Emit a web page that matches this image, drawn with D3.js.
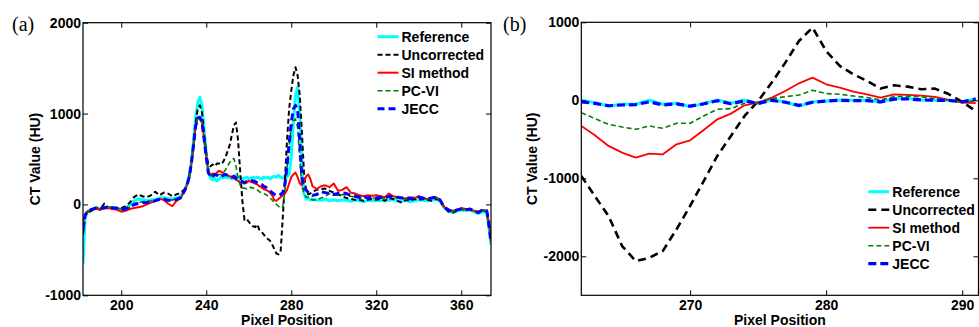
<!DOCTYPE html>
<html>
<head>
<meta charset="utf-8">
<script src="https://cdn.jsdelivr.net/npm/d3@7"></script>
<style>
  html, body { margin: 0; padding: 0; background: #fff; }
  svg { display: block; }
</style>
</head>
<body>
<svg id="chart" width="979" height="327"></svg>
<script>
const seriesNames = ['Reference', 'Uncorrected', 'SI method', 'PC-VI', 'JECC'];

// ---- panel (a): full profile ----
const pixelA = [182, 183, 184, 186, 188, 190, 192, 194, 196, 198, 200, 202, 204, 206, 208, 210, 212, 214, 216, 218, 220, 222, 224, 226, 228, 230,
  231, 232, 233, 234, 235, 236, 237, 238, 239, 240, 241, 242, 243, 244, 245, 246, 247, 248, 249, 250, 251, 252, 253, 254, 255, 256, 257, 258, 259, 260,
  261, 262, 263, 264, 265, 266, 267, 268, 269, 270, 271, 272, 273, 274, 275, 276, 277, 278, 279, 280, 281, 282, 283, 284, 285, 286, 287, 288, 289, 290,
  292, 294, 296, 298, 300, 302, 304, 306, 308, 310, 312, 314, 316, 318, 320, 322, 324, 326, 328, 330, 332, 334, 336, 338, 340, 342, 344, 346, 348, 350,
  352, 354, 356, 358, 360, 362, 364, 366, 368, 370, 372, 373, 374];

const refA = [-650, -150, -80, -60, -45, -50, -40, -35, -40, -45, -55, -40, -10, 40, 60, 55, 40, 50, 55, 70, 75, 65, 60, 70, 90, 170,
  230, 320, 480, 700, 950, 1120, 1180, 1080, 820, 560, 360, 290, 270, 290, 260, 280, 300, 290, 310, 290, 300, 280, 300, 320, 290, 300, 280, 290, 300, 280,
  290, 300, 290, 300, 290, 280, 300, 290, 300, 280, 300, 310, 300, 320, 300, 290, 310, 300, 330, 520, 900, 1200, 1290, 1000, 450, 120, 60, 70, 50, 60,
  50, 45, 60, 40, 50, 40, 50, 45, 35, 50, 40, 30, 45, 40, 45, 40, 50, 45, 55, 40, 35, 45, 30, 40, 50, 45, 40, 50, 55, 40,
  -40, -70, -90, -70, -60, -70, -60, -80, -100, -80, -90, -250, -450];

const uncorrA = [-330, -120, -90, -70, -40, -60, 10, -40, -30, -50, -40, -20, 20, 80, 110, 90, 80, 100, 140, 100, 130, 120, 90, 110, 130, 170,
  220, 320, 450, 650, 900, 1050, 1090, 1010, 780, 560, 430, 420, 440, 420, 450, 450, 440, 470, 520, 580, 650, 760, 870, 900, 700, 350, 40, -170, -160, -190,
  -220, -240, -250, -220, -280, -300, -330, -360, -380, -400, -440, -490, -540, -550, -520, -150, 250, 700, 1050, 1250, 1420, 1510, 1420, 1200, 800, 350, 150, 110, 120, 140,
  160, 170, 175, 150, 130, 110, 90, 70, 60, 50, 50, 40, 50, 60, 50, 60, 40, 70, 60, 40, 20, 50, 40, 60, 50, 60, 50, 40, 60, 50,
  -30, -80, -90, -70, -50, -60, -50, -70, -90, -60, -80, -250, -330];

const siA = [-200, -110, -80, -55, -50, -50, -45, -40, -50, -60, -80, -70, -50, -40, -30, -20, 0, 20, 40, 60, 50, 10, -20, 40, 70, 160,
  220, 300, 440, 640, 860, 950, 960, 900, 720, 520, 360, 320, 340, 330, 350, 370, 360, 340, 330, 320, 310, 300, 290, 270, 260, 240, 240, 230, 240, 260,
  250, 240, 230, 220, 200, 190, 170, 160, 150, 130, 100, 50, 40, 60, 80, 100, 120, 160, 230, 300, 330, 350, 300, 230, 210, 250, 310, 330, 280, 200,
  170, 200, 210, 190, 230, 150, 160, 190, 130, 120, 100, 90, 100, 95, 100, 90, 80, 120, 90, 80, 70, 60, 80, 70, 90, 70, 60, 70, 80, 50,
  -30, -60, -70, -60, -40, -50, -60, -70, -80, -60, -70, -200, -400];

const pcviA = [-250, -110, -80, -50, -30, -40, -40, -30, -30, -40, -50, -50, -30, 10, 20, 30, 30, 40, 50, 60, 60, 40, 50, 60, 70, 150,
  210, 290, 440, 640, 860, 950, 950, 890, 710, 510, 360, 320, 310, 310, 320, 330, 330, 350, 380, 420, 460, 490, 505, 420, 290, 210, 180, 180, 170, 180,
  190, 180, 170, 160, 140, 130, 120, 110, 90, 70, 50, 20, 0, -20, -44, -30, 150, 400, 650, 850, 920, 940, 850, 500, 200, 120, 80, 80, 60, 50,
  50, 70, 90, 120, 110, 100, 110, 100, 90, 80, 70, 70, 80, 70, 70, 80, 60, 90, 80, 70, 60, 70, 60, 70, 80, 60, 60, 70, 80, 50,
  -30, -70, -80, -60, -50, -60, -50, -70, -90, -60, -70, -250, -350];

const jeccA = [-280, -120, -80, -55, -40, -50, -35, -30, -40, -40, -60, -50, -30, 0, 10, 20, 20, 30, 40, 55, 60, 45, 40, 55, 75, 160,
  220, 300, 450, 650, 860, 950, 960, 900, 720, 520, 350, 300, 310, 330, 320, 310, 300, 320, 330, 320, 310, 300, 310, 290, 280, 260, 250, 240, 250, 250,
  260, 260, 250, 240, 230, 220, 200, 190, 170, 150, 130, 110, 100, 100, 110, 130, 220, 420, 660, 900, 1050, 1090, 1050, 700, 300, 180, 160, 130, 110, 100,
  110, 140, 130, 120, 110, 120, 130, 120, 100, 90, 80, 90, 70, 80, 70, 80, 70, 90, 80, 80, 70, 80, 60, 70, 80, 70, 60, 70, 80, 50,
  -30, -60, -80, -60, -50, -60, -50, -70, -90, -60, -70, -200, -420];

// ---- panel (b): zoom 262-291 ----
const pixelB = [262, 263, 264, 265, 266, 267, 268, 269, 270, 271, 272, 273, 274, 275, 276, 277, 278, 279, 280, 281, 282, 283, 284, 285, 286, 287, 288, 289, 290, 291];

const refB = [0, -30, -73, -51, -51, 0, -51, -38, -81, -43, 4, -38, 0, -43, 4, -21, -73, -21, -8, 4, 0, 0, -21, 22, 22, 4, 0, 0, -21, 22];
const uncorrB = [-970, -1230, -1483, -1868, -2060, -2020, -1930, -1654, -1355, -1035, -713, -457, -201, -9, 227, 483, 760, 932, 632, 440, 333, 248, 150, 192, 175, 141, 150, 80, -20, -137];
const siB = [-329, -449, -585, -671, -735, -683, -692, -564, -513, -380, -244, -171, -64, -30, 35, 119, 218, 291, 205, 163, 111, 77, 35, 77, 70, 60, 45, 4, -30, -35];
const pcviB = [-158, -235, -308, -342, -372, -329, -359, -295, -295, -201, -115, -107, -38, -21, 22, 47, 68, 128, 86, 77, 55, 35, 4, 47, 55, 43, 22, 4, -21, -8];
const jeccB = [-20, -40, -70, -60, -55, -20, -60, -45, -75, -45, -5, -45, -5, -40, 0, -25, -65, -25, -10, 0, -5, -5, -20, 15, 18, 5, 0, 0, -20, 15];

const ticksAX = [200, 240, 280, 320, 360];
const ticksAY = [-1000, 0, 1000, 2000];
const ticksBX = [270, 280, 290];
const ticksBY = [-2000, -1000, 0, 1000];

const svg = d3.select('#chart');
const font = "'Liberation Sans', Arial, sans-serif";
const plain = d => String(d);   // MATLAB-style labels: no thousands separator, ASCII minus

const styleA = {
  'Reference':   { color: '#00ffff', width: 3,   dash: null },
  'Uncorrected': { color: '#000000', width: 2,   dash: '5,3' },
  'SI method':   { color: '#ff0000', width: 2,   dash: null },
  'PC-VI':       { color: '#008000', width: 1.6, dash: '5,3' },
  'JECC':        { color: '#0000ff', width: 3,   dash: '7,4' }
};
const styleB = {
  'Reference':   { color: '#00ffff', width: 3,   dash: null },
  'Uncorrected': { color: '#000000', width: 2.6, dash: '8,5' },
  'SI method':   { color: '#ff0000', width: 1.8, dash: null },
  'PC-VI':       { color: '#008000', width: 1.6, dash: '5,3' },
  'JECC':        { color: '#0000ff', width: 3.2, dash: '8,4' }
};

function drawPanel(p) {
  const g = svg.append('g');
  const x = d3.scaleLinear().domain(p.xDomain).range([p.left, p.right]);
  const y = d3.scaleLinear().domain(p.yDomain).range([p.bottom, p.top]);

  g.append('clipPath').attr('id', p.id + '-clip')
    .append('rect')
    .attr('x', p.left).attr('y', p.top)
    .attr('width', p.right - p.left).attr('height', p.bottom - p.top);

  // curves, drawn in legend order (last on top)
  const line = d3.line().x(d => x(d[0])).y(d => y(d[1]));
  const plot = g.append('g').attr('clip-path', `url(#${p.id}-clip)`);
  seriesNames.forEach((name, i) => {
    const s = p.style[name];
    const pts = p.xs.map((v, j) => [v, p.series[i][j]]);
    plot.append('path')
      .datum(pts)
      .attr('d', line)
      .attr('fill', 'none')
      .attr('stroke', s.color)
      .attr('stroke-width', s.width)
      .attr('stroke-dasharray', s.dash)
      .attr('stroke-linejoin', 'round');
  });

  // axes, MATLAB style: inward ticks on all four sides
  const styleAxis = sel => {
    sel.select('.domain').remove();
    sel.selectAll('.tick line').attr('stroke', '#000').attr('stroke-width', 1);
    sel.selectAll('.tick text')
      .attr('fill', '#000')
      .attr('font-family', font)
      .attr('font-weight', 'bold')
      .attr('font-size', 14);
  };
  g.append('g').attr('transform', `translate(0,${p.bottom})`)
    .call(d3.axisBottom(x).tickValues(p.xTicks).tickFormat(plain).tickSizeInner(-5).tickSizeOuter(0).tickPadding(5))
    .call(styleAxis);
  g.append('g').attr('transform', `translate(0,${p.top})`)
    .call(d3.axisTop(x).tickValues(p.xTicks).tickSizeInner(-5).tickSizeOuter(0).tickFormat(''))
    .call(styleAxis);
  g.append('g').attr('transform', `translate(${p.left},0)`)
    .call(d3.axisLeft(y).tickValues(p.yTicks).tickFormat(plain).tickSizeInner(-5).tickSizeOuter(0).tickPadding(2))
    .call(styleAxis);
  g.append('g').attr('transform', `translate(${p.right},0)`)
    .call(d3.axisRight(y).tickValues(p.yTicks).tickSizeInner(-5).tickSizeOuter(0).tickFormat(''))
    .call(styleAxis);

  g.append('rect')
    .attr('x', p.left).attr('y', p.top)
    .attr('width', p.right - p.left).attr('height', p.bottom - p.top)
    .attr('fill', 'none').attr('stroke', '#000').attr('stroke-width', 1.2);

  // axis titles
  g.append('text')
    .attr('x', (p.left + p.right) / 2).attr('y', 325)
    .attr('text-anchor', 'middle')
    .attr('font-family', font).attr('font-weight', 'bold').attr('font-size', 14)
    .text('Pixel Position');
  g.append('text')
    .attr('transform', `translate(${p.yTitleX},${(p.top + p.bottom) / 2}) rotate(-90)`)
    .attr('text-anchor', 'middle')
    .attr('font-family', font).attr('font-weight', 'bold').attr('font-size', 14)
    .text('CT Value (HU)');

  // panel letter
  g.append('text')
    .attr('x', p.letterX).attr('y', 31)
    .attr('font-family', "'Liberation Serif', 'Times New Roman', serif")
    .attr('font-size', 20)
    .text(p.letter);

  // legend
  const lg = g.append('g');
  seriesNames.forEach((name, i) => {
    const s = p.style[name];
    const ly = p.legendY + i * 18;
    lg.append('line')
      .attr('x1', p.legendX).attr('x2', p.legendX + 21)
      .attr('y1', ly).attr('y2', ly)
      .attr('stroke', s.color)
      .attr('stroke-width', s.width)
      .attr('stroke-dasharray', s.dash);
    lg.append('text')
      .attr('x', p.legendX + 24).attr('y', ly).attr('dy', '0.36em')
      .attr('font-family', font).attr('font-weight', 'bold').attr('font-size', 14)
      .text(name);
  });
}

drawPanel({
  id: 'pa', letter: '(a)', letterX: 12,
  left: 83, right: 491, top: 22.7, bottom: 295.3,
  xDomain: [182, 374], yDomain: [-1000, 2000],
  xTicks: ticksAX, yTicks: ticksAY,
  xs: pixelA, series: [refA, uncorrA, siA, pcviA, jeccA],
  style: styleA, yTitleX: 40,
  legendX: 377.5, legendY: 36.7
});

drawPanel({
  id: 'pb', letter: '(b)', letterX: 503,
  left: 581.3, right: 978.5, top: 22.3, bottom: 295.3,
  xDomain: [262, 291.2], yDomain: [-2500, 1000],
  xTicks: ticksBX, yTicks: ticksBY,
  xs: pixelB, series: [refB, uncorrB, siB, pcviB, jeccB],
  style: styleB, yTitleX: 537,
  legendX: 868.3, legendY: 191.7
});
</script>
</body>
</html>
